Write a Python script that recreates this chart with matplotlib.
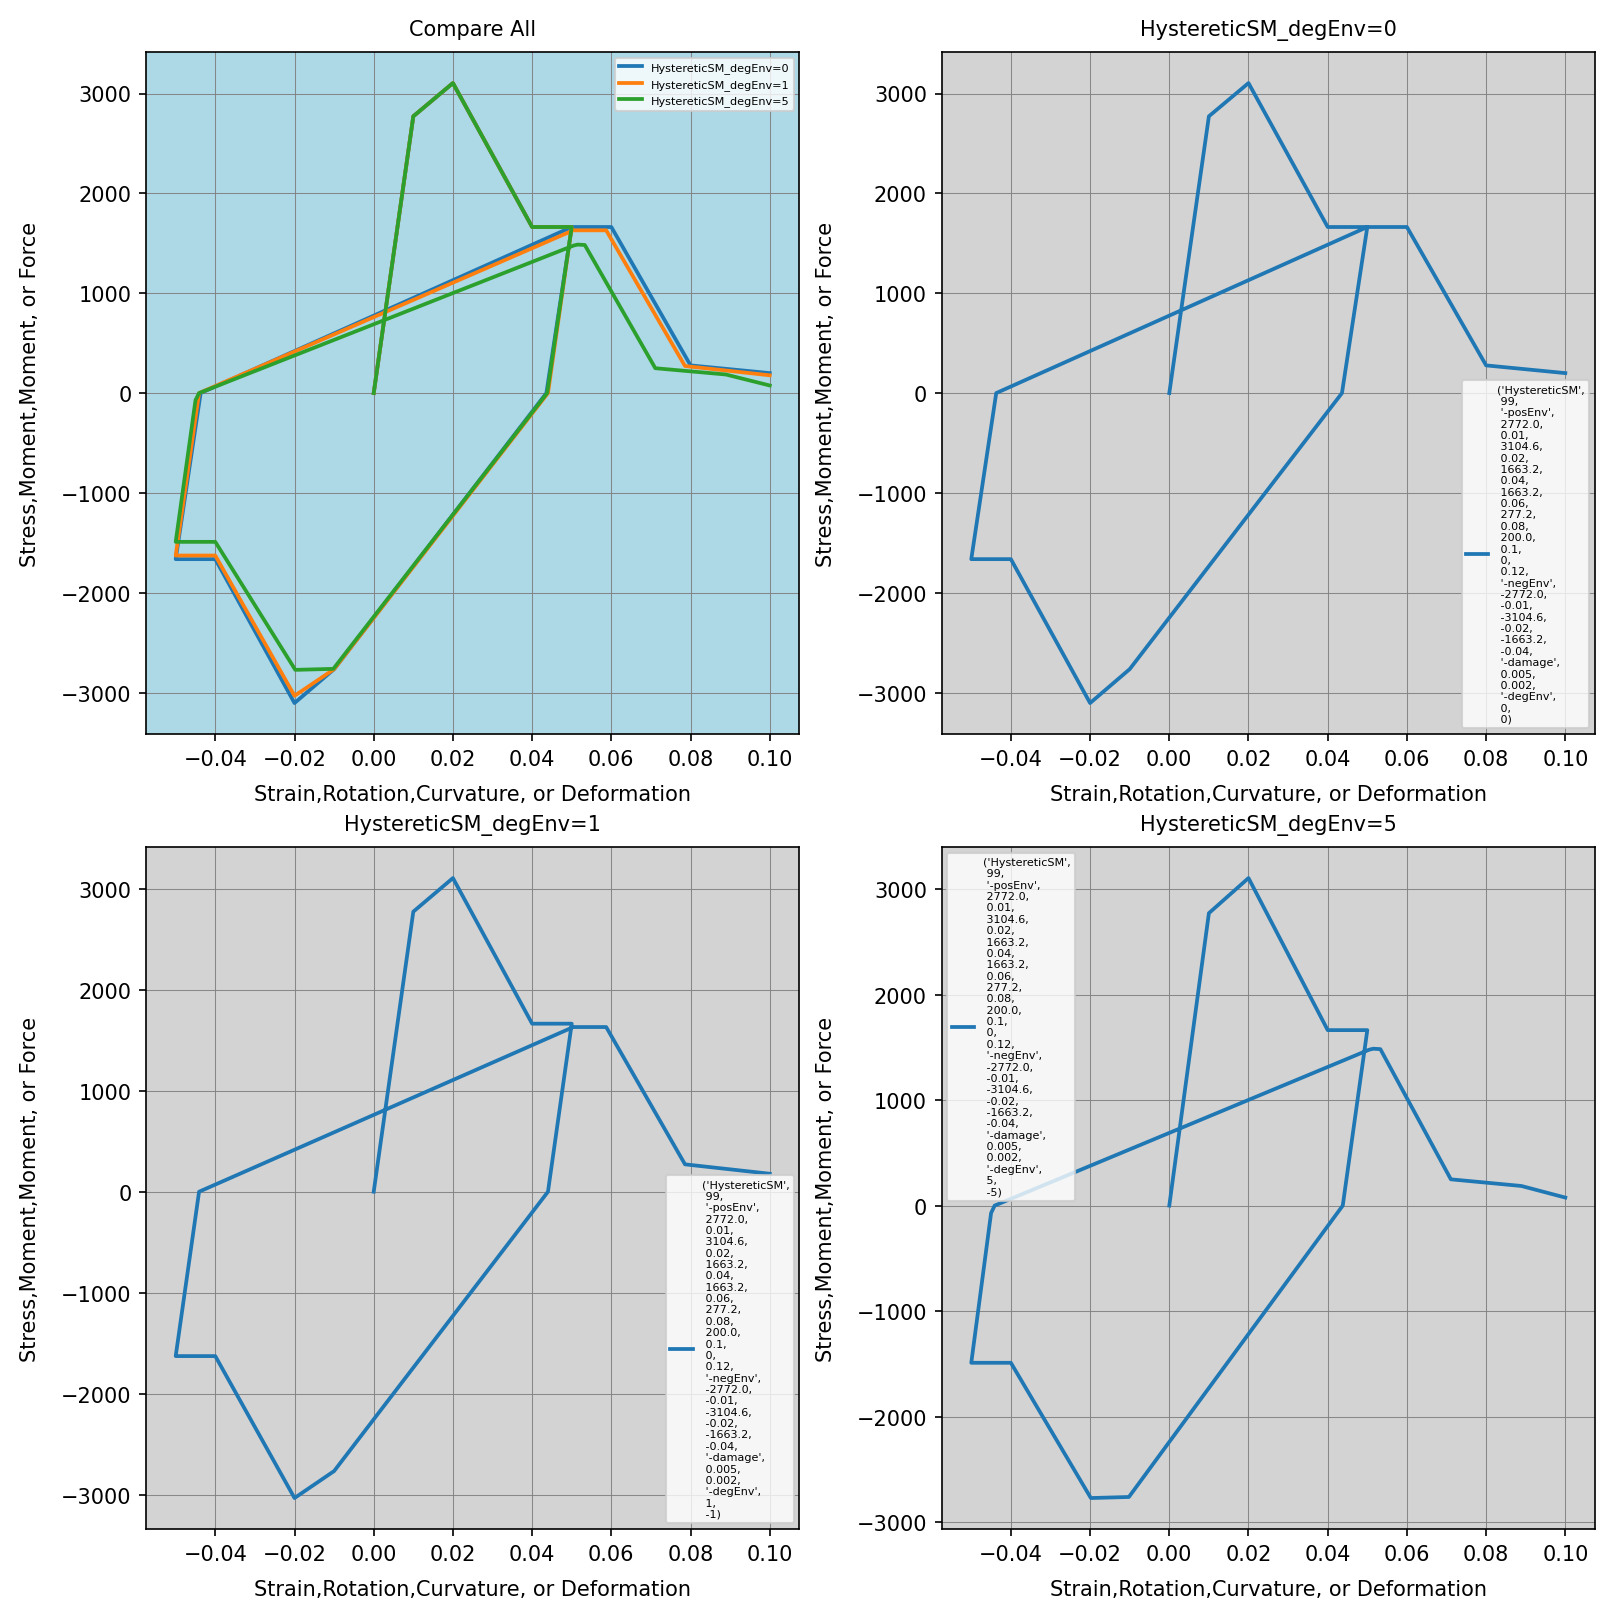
import pprint
import matplotlib
matplotlib.use("Agg")
import matplotlib.pyplot as plt

# ---- data ----
labels = ["HystereticSM_degEnv=0", "HystereticSM_degEnv=1", "HystereticSM_degEnv=5"]

strain_deg0 = [0, 0.01, 0.02, 0.04, 0.05, 0.0436, -0.01, -0.02, -0.04, -0.05, -0.0437,
               0.05, 0.06, 0.08, 0.10]
stress_deg0 = [0, 2772.0, 3104.6, 1663.2, 1663.2, 0, -2765, -3104.6, -1663.2, -1663.2, 0,
               1663.2, 1663.2, 277.2, 200.0]

strain_deg1 = [0, 0.01, 0.02, 0.04, 0.05, 0.0440, -0.01, -0.02, -0.04, -0.05, -0.0441,
               0.0504, 0.0587, 0.0786, 0.10]
stress_deg1 = [0, 2772.0, 3104.6, 1663.2, 1663.2, 0, -2765, -3032, -1627, -1627, 0,
               1630, 1630, 271, 178]

strain_deg5 = [0, 0.01, 0.02, 0.04, 0.05, 0.0438, -0.0102, -0.0198, -0.04, -0.05, -0.045,
               -0.0441, 0.0505, 0.0515, 0.0533, 0.0711, 0.0889, 0.10]
stress_deg5 = [0, 2772.0, 3104.6, 1663.2, 1663.2, 0, -2762, -2772, -1490, -1490, -71,
               0, 1478, 1487, 1483, 249, 186, 76]

pos_env = [2772.0, 0.01, 3104.6, 0.02, 1663.2, 0.04, 1663.2, 0.06, 277.2, 0.08, 200.0, 0.1, 0, 0.12]
neg_env = [-2772.0, -0.01, -3104.6, -0.02, -1663.2, -0.04]
damage = [0.005, 0.002]
deg_env_params = [(0, 0), (1, -1), (5, -5)]

colors = ["#1f77b4", "#ff7f0e", "#2ca02c"]
series = [(strain_deg0, stress_deg0), (strain_deg1, stress_deg1), (strain_deg5, stress_deg5)]


def mat_label(deg):
    t = tuple(["HystereticSM", 99, "-posEnv"] + pos_env + ["-negEnv"] + neg_env +
              ["-damage"] + damage + ["-degEnv"] + list(deg))
    return pprint.pformat(t, width=1)


xlabel = "Strain,Rotation,Curvature, or Deformation"
ylabel = "Stress,Moment,Moment, or Force"

fig, axes = plt.subplots(2, 2, figsize=(10.767, 10.813), dpi=150)
fig.subplots_adjust(left=0.0904, right=0.9876, top=0.9673, bottom=0.0567,
                    wspace=0.2175, hspace=0.1657)

LW = 1.8

# Compare All
ax = axes[0, 0]
ax.set_facecolor("lightblue")
for (x, y), c, lab in zip(series, colors, labels):
    ax.plot(x, y, color=c, lw=LW, label=lab)
ax.set_title("Compare All", fontsize=10, pad=8)
ax.legend(loc="upper right", fontsize=5.4)

locs = ["lower right", "lower right", "upper left"]
for ax, (x, y), lab, deg, loc in zip([axes[0, 1], axes[1, 0], axes[1, 1]], series,
                                     labels, deg_env_params, locs):
    ax.set_facecolor("lightgray")
    ax.plot(x, y, color=colors[0], lw=LW, label=mat_label(deg))
    ax.set_title(lab, fontsize=10, pad=8)
    leg = ax.legend(loc=loc, fontsize=5.35)
    for t in leg.get_texts():
        t.set_linespacing(1.17)

for ax in axes.flat:
    ax.grid(True, color="gray", lw=0.5, alpha=0.9)
    ax.set_xlabel(xlabel, fontsize=10, labelpad=7.5)
    ax.set_ylabel(ylabel, fontsize=10, labelpad=10)
    ax.tick_params(labelsize=10)

fig.savefig("out.png", dpi=150)
